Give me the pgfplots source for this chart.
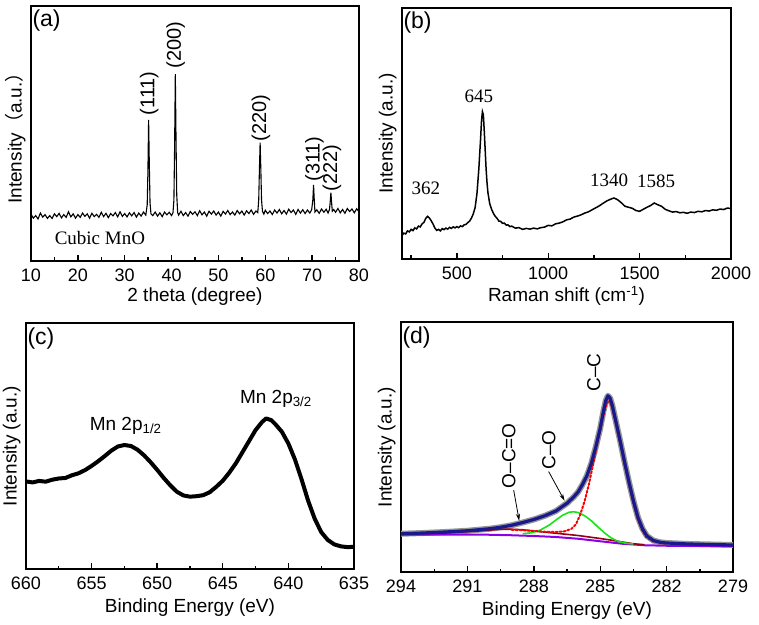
\documentclass[border=0pt]{standalone}
\usepackage{fontspec}
\setmainfont{Liberation Sans}
\newfontfamily\seriffont{Liberation Serif}
\newfontfamily\cjk{Noto Sans CJK SC}
\usepackage{pgfplots}
\pgfplotsset{compat=1.18}
\usetikzlibrary{arrows.meta}
\definecolor{fitnavy}{RGB}{25,25,140}
\definecolor{bgpurple}{RGB}{140,0,230}
\definecolor{ocobrown}{RGB}{150,0,20}
\definecolor{cogreen}{RGB}{20,230,20}
\definecolor{rawgrey}{RGB}{150,150,150}
\pgfplotsset{
  panel/.style={
    scale only axis,
    ymin=0, ymax=100,
    ytick=\empty,
    axis line style={line width=1.6pt},
    tick align=inside,
    xtick pos=bottom,
    major tick length=6pt,
    minor tick length=3.5pt,
    tick style={black, line width=1.4pt},
    scaled x ticks=false,
    /pgf/number format/assume math mode=true,
    /pgf/number format/1000 sep={},
    ticklabel style={font=\fontsize{18}{20}\selectfont},
    xticklabel style={yshift=-4pt},
    label style={font=\fontsize{19}{22}\selectfont},
    ylabel style={at={(axis description cs:-0.006,0.5)}, anchor=south},
  },
}
\tikzset{letter/.style={anchor=north west, inner sep=0pt, font=\fontsize{23}{26}\selectfont}}
\begin{document}
\begin{tikzpicture}
\path[use as bounding box] (0,0) rectangle (759pt,624pt);

% ---------------- (a) ----------------
\begin{axis}[panel, at={(31pt,363pt)}, anchor=south west, width=328pt, height=255pt,
  xmin=10, xmax=80, xtick={10,20,...,80}, minor xtick={15,25,...,75},
  xlabel={2 theta (degree)}, ylabel={Intensity{\cjk（}a.u.{\cjk）}}]
\addplot[black, line width=1.1pt] coordinates {
(10,18.4)(10.5,16.8)(11,17.8)(11.5,16.5)(12,18.8)(12.5,17.2)(13,18.2)(13.5,16.7)(14,17.8)(14.5,16.7)
(15,18.5)(15.5,17.4)(16,18.7)(16.5,16.9)(17,18.2)(17.5,17.1)(18,19.3)(18.5,17.3)(19,18.5)(19.5,16.8)
(20,18.2)(20.5,17.1)(21,18.8)(21.5,17.5)(22,18.5)(22.5,16.8)(23,18.7)(23.5,17.4)(24,18.3)(24.5,17.1)
(25,19.1)(25.5,17.4)(26,18.7)(26.5,17.0)(27,18.6)(27.5,17.7)(28,19.0)(28.5,17.3)(29,19.3)(29.5,17.5)
(30,18.6)(30.5,17.3)(31,18.9)(31.5,17.7)(32,19.0)(32.5,17.2)(33,18.8)(33.5,17.6)(34,19.2)(34.5,18.0)
(34.8,22)(34.95,35)(35.1,55.3)(35.25,38)(35.4,23)(35.6,18.5)
(36,17.8)(36.5,19.2)(37,17.6)(37.5,18.9)(38,17.4)(38.5,19.2)(39,18.1)(39.5,19.1)(40,17.8)(40.3,18.9)
(40.5,24)(40.65,45)(40.8,73.3)(40.95,48)(41.1,26)(41.3,19.0)
(41.5,18.0)(42,19.5)(42.5,17.8)(43,19.0)(43.5,17.6)(44,19.4)(44.5,18.3)(45,19.3)(45.5,17.8)(46,19.7)
(46.5,18.1)(47,19.2)(47.5,17.6)(48,19.5)(48.5,18.4)(49,19.6)(49.5,18.0)(50,19.2)(50.5,17.6)(51,19.5)
(51.5,18.4)(52,19.8)(52.5,18.2)(53,19.2)(53.5,18.0)(54,19.8)(54.5,18.5)(55,19.6)(55.5,18.0)(56,19.7)
(56.5,18.6)(57,20.0)(57.5,18.3)(58,19.6)(58.4,19.0)
(58.6,24)(58.75,36)(58.9,46.4)(59.05,36)(59.2,24)(59.4,19.5)
(59.7,18.4)(60,19.9)(60.5,18.6)(61,19.6)(61.5,18.2)(62,20.0)(62.5,18.8)(63,20.2)(63.5,18.5)(64,19.8)
(64.5,18.4)(65,20.3)(65.5,19.0)(66,20.0)(66.5,18.3)(67,20.2)(67.5,18.8)(68,20.1)(68.5,18.6)(69,20.0)
(69.5,18.8)(69.9,20.1)(70.15,24)(70.3,29.8)(70.45,24)(70.6,19.2)
(71,20.1)(71.5,18.7)(72,20.4)(72.5,19.1)(73,20.3)(73.4,18.8)
(73.7,20.2)(73.85,23)(74.0,26.8)(74.15,23)(74.3,19.5)
(74.6,20.2)(75,19.1)(75.5,20.6)(76,18.9)(76.5,20.2)(77,18.7)(77.5,20.6)(78,19.4)(78.5,20.4)(79,18.9)
(79.5,20.5)(80,19.3)
};
\node[letter] at (axis description cs:0.004,0.985) {(a)};
\node[rotate=90, font=\fontsize{20}{22}\selectfont] at (axis cs:35.2,65.8) {(111)};
\node[rotate=90, font=\fontsize{20}{22}\selectfont] at (axis cs:40.9,84.7) {(200)};
\node[rotate=90, font=\fontsize{20}{22}\selectfont] at (axis cs:59.1,56) {(220)};
\node[rotate=90, font=\fontsize{20}{22}\selectfont] at (axis cs:70.5,40) {(311)};
\node[rotate=90, font=\fontsize{20}{22}\selectfont] at (axis cs:74.2,36.5) {(222)};
\node[font=\seriffont\fontsize{19}{22}\selectfont] at (axis cs:24.7,9) {Cubic MnO};
\end{axis}

% ---------------- (b) ----------------
\begin{axis}[panel, at={(402pt,365pt)}, anchor=south west, width=329pt, height=251pt,
  xmin=200, xmax=2000, xtick={500,1000,1500,2000}, minor xtick={250,750,1250,1750},
  xlabel={Raman shift (cm\textsuperscript{-1})}, ylabel={Intensity (a.u.)}]
\addplot[black, line width=1.5pt] coordinates {
(200,9.4)(210,10.3)(220,10.0)(230,11.2)(240,10.8)(250,11.8)(260,11.3)(270,12.4)(280,12.0)(290,13.1)
(300,12.8)(310,14.0)(320,14.6)(330,16.2)(340,17.0)(350,16.3)(360,15.2)(370,13.9)(380,12.3)(390,11.4)
(400,11.8)(410,11.2)(420,12.1)(430,11.7)(440,12.3)(450,11.9)(460,12.6)(470,12.2)(480,12.8)(490,12.4)
(500,12.9)(510,12.5)(520,13.2)(530,12.9)(540,13.6)(550,13.8)(560,14.5)(570,15.1)(580,16.3)(590,18.0)
(600,20.5)(610,26.0)(620,35.5)(630,48.0)(635,55.0)(640,58.7)(645,57.5)(650,51.0)(655,43.5)(660,36.0)
(665,30.5)(670,26.5)(680,22.0)(690,19.8)(700,18.2)(710,17.0)(720,16.2)(730,15.1)(740,15.0)(750,14.2)
(760,14.3)(770,13.5)(780,13.6)(790,12.9)(800,13.1)(820,12.3)(840,12.5)(860,11.8)(880,12.2)(900,11.9)
(920,12.3)(940,12.0)(960,12.5)(980,12.7)(1000,13.4)(1020,13.2)(1040,14.0)(1060,14.3)(1080,14.8)(1100,15.6)
(1120,15.9)(1140,16.7)(1160,17.1)(1180,17.6)(1200,18.3)(1220,18.8)(1240,19.6)(1260,20.4)(1280,21.2)(1300,22.2)
(1320,23.1)(1340,23.8)(1360,24.3)(1380,23.6)(1400,22.4)(1420,21.0)(1440,20.6)(1460,20.2)(1480,19.3)(1500,19.0)
(1520,19.8)(1540,20.6)(1560,21.3)(1580,22.3)(1600,21.6)(1620,21.0)(1640,19.8)(1660,19.2)(1680,18.7)(1700,18.9)
(1720,18.4)(1740,18.6)(1760,18.2)(1780,18.7)(1800,18.5)(1820,19.0)(1840,18.8)(1860,19.3)(1880,19.1)(1900,19.6)
(1920,19.4)(1940,19.9)(1960,19.7)(1980,20.3)(2000,20.1)
};
\node[letter] at (axis description cs:0.004,0.985) {(b)};
\node[font=\seriffont\fontsize{19}{22}\selectfont] at (axis cs:331,28.2) {362};
\node[font=\seriffont\fontsize{19}{22}\selectfont] at (axis cs:621,64.7) {645};
\node[font=\seriffont\fontsize{19}{22}\selectfont] at (axis cs:1333,31.5) {1340};
\node[font=\seriffont\fontsize{19}{22}\selectfont] at (axis cs:1590,30.8) {1585};
\end{axis}

% ---------------- (c) ----------------
\begin{axis}[panel, at={(26pt,55pt)}, anchor=south west, width=328pt, height=246pt,
  x dir=reverse, xmin=635, xmax=660, xtick={635,640,...,660}, minor xtick={637.5,642.5,647.5,652.5,657.5},
  xlabel={Binding Energy (eV)}, xlabel style={yshift=-3pt}, ylabel={Intensity (a.u.)}]
\addplot[black, line width=4pt, line join=round] coordinates {
(660,35.6)(659.5,35.2)(659,35.8)(658.5,35.5)(658,36.3)(657.5,36.8)(657,37.0)(656.5,38.1)(656,38.9)(655.5,40.2)
(655,41.9)(654.5,43.8)(654,45.9)(653.5,48.1)(653,49.8)(652.5,50.4)(652,50.0)(651.5,48.5)(651,46.2)(650.5,43.4)
(650,40.3)(649.5,37.0)(649,34.0)(648.5,31.4)(648,29.9)(647.5,29.4)(647,29.6)(646.5,30.0)(646,31.2)(645.5,33.4)
(645,35.9)(644.5,39.2)(644,43.0)(643.5,47.5)(643,52.0)(642.5,56.5)(642,59.8)(641.7,61.2)(641.3,60.5)(641,58.9)
(640.5,55.8)(640,51.0)(639.5,44.5)(639,36.5)(638.5,27.8)(638,20.5)(637.5,15.0)(637,11.8)(636.5,10.0)(636,9.2)
(635.5,8.9)(635,9.0)
};
\node[letter] at (axis description cs:0.004,0.98) {(c)};
\node[anchor=base, font=\fontsize{19}{22}\selectfont] at (axis cs:652.4,56.5) {Mn 2p\textsubscript{1/2}};
\node[anchor=base, font=\fontsize{19}{22}\selectfont] at (axis cs:640.95,67.4) {Mn 2p\textsubscript{3/2}};
\end{axis}

% ---------------- (d) ----------------
\begin{axis}[panel, at={(401pt,52pt)}, anchor=south west, width=332pt, height=250pt,
  x dir=reverse, xmin=279, xmax=294, xtick={279,282,...,294}, minor xtick={280.5,283.5,286.5,289.5,292.5},
  xlabel={Binding Energy (eV)}, xlabel style={yshift=-3pt}, ylabel={Intensity (a.u.)}]
\addplot[rawgrey, line width=6pt, line join=round] coordinates {
(294,15.3)(293,15.6)(292,16.0)(291,16.5)(290,17.3)(289.5,17.9)(289,18.7)(288.5,19.8)(288,21.0)(287.5,22.5)
(287,24.4)(286.5,27.5)(286.2,30.0)(286,32.0)(285.8,35.0)(285.6,38.5)(285.4,43.5)(285.2,50.0)(285,57.5)(284.85,64.5)
(284.75,68.5)(284.65,70.5)(284.55,69.5)(284.45,66.5)(284.3,60.5)(284.1,52.5)(283.9,44.0)(283.7,36.0)(283.5,28.5)(283.3,22.0)
(283.1,17.5)(282.9,14.5)(282.6,12.6)(282.3,11.9)(282,11.6)(281,11.2)(280,11.0)(279,10.8)
};
\addplot[bgpurple, line width=2pt] coordinates {
(294,15.0)(292,15.0)(290,14.9)(289,14.7)(288,14.4)(287,14.0)(286,13.3)(285,12.3)(284,11.3)(283,10.7)(282,10.5)(279,10.4)
};
\addplot[ocobrown, line width=1.6pt] coordinates {
(294,15.4)(292,15.6)(290.5,16.4)(289.5,17.1)(289,17.1)(288.5,16.9)(288,16.4)(287,15.5)(286,14.6)(285,13.4)(284.4,12.6)(284,12.0)(283.5,11.3)(283,10.9)
};
\addplot[cogreen, line width=1.6pt] coordinates {
(288.5,15.3)(288.1,15.7)(287.7,16.8)(287.3,18.8)(287,20.8)(286.7,22.7)(286.4,23.9)(286.2,24.1)(286,23.8)(285.7,22.5)
(285.4,20.5)(285.1,18.0)(284.8,15.6)(284.5,13.6)(284.2,12.3)(283.9,11.6)(283.5,11.2)
};
\addplot[red, line width=2pt, dotted, line cap=round] coordinates {
(289,16.9)(288.5,16.7)(288,16.4)(287.5,16.1)(287,16.0)(286.6,16.3)(286.3,17.3)(286.1,19.0)(285.9,23.0)(285.7,28.5)
(285.5,35.5)(285.3,44.0)(285.1,52.5)(284.9,60.5)(284.75,66.0)(284.65,68.5)(284.55,68.0)(284.45,65.5)(284.3,59.5)(284.1,51.5)
(283.9,43.0)(283.7,35.0)(283.5,27.5)(283.3,21.0)(283.1,16.5)(282.9,13.8)(282.6,12.2)(282.3,11.6)(282,11.3)
};
\addplot[fitnavy, line width=3.2pt, line join=round] coordinates {
(294,15.3)(293,15.6)(292,16.0)(291,16.5)(290,17.3)(289.5,17.9)(289,18.7)(288.5,19.8)(288,21.0)(287.5,22.5)
(287,24.4)(286.5,27.5)(286.2,30.0)(286,32.0)(285.8,35.0)(285.6,38.5)(285.4,43.5)(285.2,50.0)(285,57.5)(284.85,64.5)
(284.75,68.5)(284.65,70.5)(284.55,69.5)(284.45,66.5)(284.3,60.5)(284.1,52.5)(283.9,44.0)(283.7,36.0)(283.5,28.5)(283.3,22.0)
(283.1,17.5)(282.9,14.5)(282.6,12.6)(282.3,11.9)(282,11.6)(281,11.2)(280,11.0)(279,10.8)
};
\node[letter] at (axis description cs:0.004,0.98) {(d)};
\node[rotate=90, font=\fontsize{19}{22}\selectfont] at (axis cs:285.29,79.8) {C–C};
\node[rotate=90, font=\fontsize{19}{22}\selectfont] at (axis cs:287.32,48.9) {C–O};
\node[rotate=90, font=\fontsize{19}{22}\selectfont] at (axis cs:289.13,46.5) {O–C=O};
\draw[black, line width=0.8pt, -{Stealth[length=7pt,width=4pt]}] (axis cs:287.33,40.2) -- (axis cs:286.61,28.5);
\draw[black, line width=0.8pt, -{Stealth[length=7pt,width=4pt]}] (axis cs:288.91,32.8) -- (axis cs:288.66,20.5);
\end{axis}
\end{tikzpicture}
\end{document}
